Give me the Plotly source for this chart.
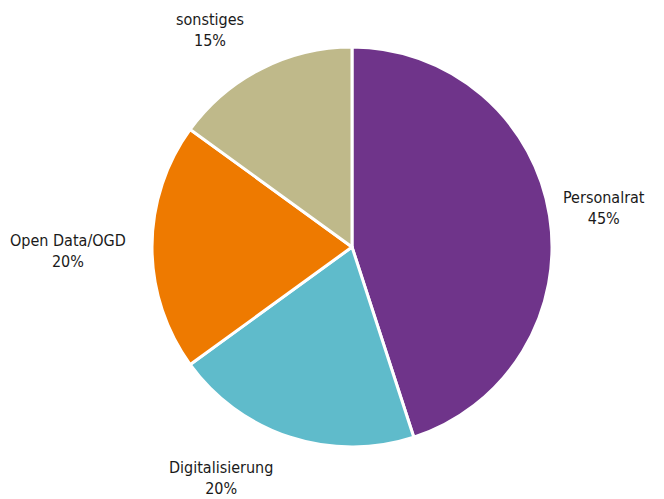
import plotly.graph_objects as go

labels = ["Personalrat", "Digitalisierung", "Open Data/OGD", "sonstiges"]
values = [45, 20, 20, 15]
colors = ["#6F348A", "#5FBBCB", "#EE7A00", "#BFB98A"]

W, H = 664, 499
# label block centres in pixels (layout, not data)
label_px = [(604, 208), (221, 478), (68, 251), (210, 30)]

total = sum(values)
fig = go.Figure(go.Pie(
    labels=labels,
    values=values,
    sort=False,
    direction="clockwise",
    rotation=0,
    domain=dict(x=[152 / W, 552 / W], y=[1 - 447 / H, 1 - 47 / H]),
    marker=dict(colors=colors, line=dict(color="white", width=3)),
    textinfo="none",
    showlegend=False,
    hoverinfo="label+percent",
))

for lab, val, (px, py) in zip(labels, values, label_px):
    fig.add_annotation(
        x=px / W, y=1 - py / H, xref="paper", yref="paper",
        xanchor="center", yanchor="middle",
        text=f"{lab}<br>{round(100 * val / total)}%",
        showarrow=False,
        align="center",
        font=dict(family="DejaVu Sans Condensed, sans-serif", size=16, color="#1a1a1a"),
    )

fig.update_layout(
    width=W, height=H,
    margin=dict(l=0, r=0, t=0, b=0),
    paper_bgcolor="white",
    plot_bgcolor="white",
)
fig.write_html("out.html", config={"displayModeBar": False},
               post_script="document.body.style.margin='0';")
